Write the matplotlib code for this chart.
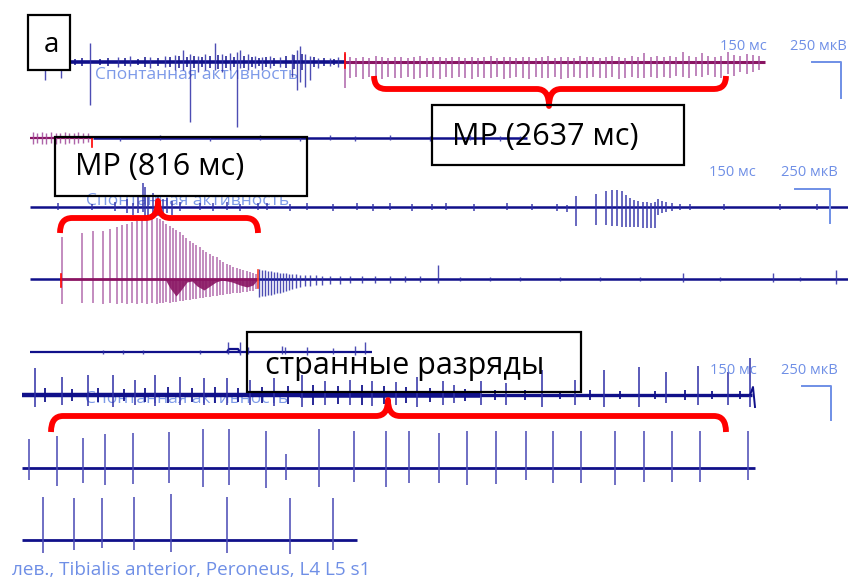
import matplotlib
matplotlib.use('Agg')
import matplotlib.pyplot as plt
from matplotlib.path import Path
from matplotlib.patches import PathPatch, Rectangle

# ---------------- data (sweep position, amplitudes up / down) ----------------
# Row 1: spontaneous activity then MP discharge (magenta)
r1_blue_x    = [45, 61, 90, 118, 130, 150, 165, 175, 183, 190, 198, 205, 215, 222, 230, 237, 240, 248, 255, 262, 270, 280, 292, 297, 300, 305, 310, 318, 330, 338]
r1_blue_up   = [0, 0, 19, 5, 6, 5, 6, 7, 12, 8, 6, 8, 19, 8, 9, 10, 12, 8, 6, 5, 6, 5, 8, 12, 16, 8, 6, 4, 4, 5]
r1_blue_down = [18, 16, 43, 5, 4, 6, 5, 8, 8, 60, 10, 8, 8, 10, 8, 65, 6, 8, 6, 8, 6, 5, 15, 28, 20, 25, 18, 6, 4, 5]
r1_noise_x = [75, 82, 100, 108, 125, 138, 145, 158, 170, 179, 187, 194, 202, 210, 218, 226, 234, 244, 252, 259, 266, 274, 286, 294, 302, 314, 324, 334]
r1_noise_a = [3, 4, 3, 4, 4, 3, 5, 4, 5, 6, 5, 6, 5, 6, 7, 6, 5, 6, 5, 4, 5, 4, 6, 7, 8, 5, 4, 3]
r1_mag_x = [345, 350, 356, 363, 369, 376, 382, 388, 395, 401, 408, 414, 420, 427, 433, 440, 446, 452, 459, 465,
            472, 478, 484, 491, 497, 504, 510, 516, 523, 529, 536, 542, 548, 555, 561, 568, 574, 580, 587, 593,
            600, 606, 612, 619, 625, 632, 638, 644, 651, 657, 664, 670, 676, 683, 689, 696, 702, 708, 715, 721,
            728, 734, 740, 747, 753, 759]
r1_mag_up = [8, 5, 4, 5, 4, 6, 5, 4, 5, 5, 4, 5, 6, 4, 5, 5, 4, 5, 5, 4,
             5, 4, 5, 6, 4, 5, 5, 4, 5, 5, 4, 5, 6, 4, 5, 5, 4, 6, 5, 5,
             4, 5, 6, 5, 4, 6, 5, 9, 5, 6, 5, 6, 5, 10, 6, 5, 9, 6, 5, 6,
             10, 7, 6, 8, 7, 6]
r1_mag_down = [26, 16, 15, 17, 15, 16, 17, 15, 16, 16, 15, 17, 16, 15, 16, 17, 15, 16, 15, 16,
               17, 15, 16, 16, 15, 17, 16, 15, 16, 17, 15, 16, 16, 15, 17, 16, 15, 16, 16, 15,
               16, 16, 15, 17, 16, 15, 16, 16, 15, 16, 15, 16, 14, 15, 16, 14, 15, 13, 15, 16,
               12, 14, 10, 12, 10, 8]

# Row 2
r2_mag_x = [33, 37, 42, 46, 51, 56, 60, 65, 69, 74, 78, 83, 88]
r2_mag_up = [6, 5, 6, 5, 6, 5, 5, 6, 5, 5, 6, 5, 5]
r2_mag_down = [6, 5, 6, 6, 5, 6, 5, 6, 5, 6, 5, 5, 4]
r2_blue_x = [120, 160, 210, 260, 300, 330, 355, 390, 430, 470, 500, 520]
r2_blue_up = [2, 3, 2, 3, 2, 3, 2, 3, 2, 3, 2, 2]
r2_blue_down = [3, 2, 3, 2, 3, 2, 3, 2, 3, 2, 3, 2]

# Row 3: spontaneous activity with a burst
r3_x = [58, 92, 115, 127, 133, 138, 143, 145, 148, 153, 158, 163, 167, 172, 180, 200, 213, 227, 240, 258, 267, 290,
        307, 333, 357, 373, 390, 412, 432, 446, 474, 507, 532, 557, 567,
        576, 596, 606, 612, 617, 622, 626, 630, 634, 638, 643, 647, 651, 655, 658, 662, 666, 672, 680, 690, 724, 780, 817]
r3_up = [4, 3, 5, 8, 4, 10, 24, 20, 12, 14, 10, 8, 9, 6, 5, 4, 4, 5, 3, 4, 4, 3,
         4, 3, 4, 3, 4, 3, 3, 4, 3, 4, 3, 3, 2,
         11, 13, 16, 17, 17, 16, 12, 9, 7, 6, 5, 5, 4, 5, 8, 6, 5, 4, 3, 3, 3, 3, 3]
r3_down = [3, 3, 4, 6, 8, 6, 5, 9, 10, 8, 9, 7, 6, 8, 4, 3, 4, 3, 4, 3, 3, 4,
           3, 4, 3, 4, 3, 4, 3, 3, 4, 3, 3, 4, 5,
           19, 18, 18, 19, 19, 20, 20, 20, 20, 20, 21, 21, 21, 21, 8, 6, 5, 4, 3, 3, 3, 3, 3]

# Row 4: MP (816 ms) – waxing/waning discharge
r4_mag_x = [62, 82, 93, 103, 110, 117, 122, 127, 132, 137, 142, 147, 152, 157, 160, 163, 166, 170, 173, 176, 180,
            183, 186, 190, 193, 196, 200, 203, 206, 210, 213, 217, 220, 223, 227, 230, 233, 237, 240, 243, 247,
            250, 253, 256]
r4_mag_up = [42, 46, 48, 48, 50, 52, 54, 55, 57, 58, 59, 61, 62, 61, 60, 58, 55, 53, 51, 49, 47,
             44, 41, 38, 36, 34, 32, 29, 27, 25, 23, 22, 19, 17, 15, 14, 12, 11, 10, 9, 8,
             7, 6, 5]
r4_mag_down = [25, 24, 24, 25, 24, 25, 24, 25, 24, 25, 24, 25, 24, 25, 24, 24, 23, 24, 23, 23, 22,
               22, 21, 21, 20, 20, 19, 19, 18, 18, 17, 17, 16, 16, 15, 15, 14, 14, 14, 13, 13,
               12, 12, 10]
r4_dip_x = [165, 170, 176, 181, 187, 192, 197, 204, 210, 216, 222, 232, 240, 247, 253, 258]
r4_dip_d = [0, 9, 17, 11, 3, 2, 7, 11, 7, 3, 1, 3, 6, 8, 6, 0]
r4_blue_x = [259, 262, 265, 268, 271, 274, 277, 280, 283, 286, 289, 292, 296, 300, 305, 310, 316, 322, 330,
             340, 350, 362, 375, 390, 405, 420, 438, 460, 490, 520, 560, 600, 640, 683, 720, 773, 800, 836]
r4_blue_up = [10, 9, 9, 8, 8, 7, 7, 6, 6, 6, 5, 5, 5, 4, 4, 4, 4, 3, 3,
              3, 3, 3, 3, 3, 3, 3, 14, 2, 2, 2, 2, 2, 2, 6, 2, 6, 2, 9]
r4_blue_down = [18, 17, 17, 16, 16, 15, 14, 14, 13, 12, 11, 10, 9, 8, 7, 7, 6, 6, 5,
                5, 4, 4, 4, 4, 3, 3, 4, 2, 2, 2, 2, 2, 2, 3, 2, 3, 2, 5]

# Row 5
r5_x = [103, 123, 143, 200, 228, 240, 248, 282, 285, 307, 333, 355, 365]
r5_up = [2, 2, 2, 2, 10, 10, 5, 6, 5, 5, 4, 6, 10]
r5_down = [2, 2, 2, 2, 2, 3, 2, 2, 2, 3, 2, 3, 2]

# Row 6: strange discharges
r6_x = [35, 62, 88, 113, 135, 155, 180, 204, 227, 250, 274, 302, 325, 350, 372, 396, 417, 443, 454, 481, 506,
        542, 575, 604, 639, 666, 698, 728, 750]
r6_up = [27, 18, 20, 20, 15, 20, 18, 17, 17, 15, 17, 20, 14, 15, 14, 13, 18, 14, 10, 14, 12,
         25, 15, 25, 28, 23, 29, 23, 37]
r6_down = [12, 10, 11, 12, 10, 11, 10, 10, 10, 10, 11, 12, 10, 10, 11, 10, 12, 10, 8, 10, 10,
           12, 10, 12, 12, 8, 10, 10, 12]
r6_noise_x = [45, 72, 98, 124, 145, 168, 192, 215, 238, 262, 288, 313, 338, 362, 384, 406, 430, 465, 495, 525, 560, 590, 620, 655, 685, 712, 740]
r6_noise_a = [7, 6, 7, 6, 7, 8, 7, 8, 7, 8, 9, 10, 9, 10, 9, 8, 7, 6, 5, 5, 4, 5, 4, 4, 5, 4, 4]

# Row 7 and row 8: regular discharges
r7_x = [29, 57, 83, 105, 133, 169, 203, 229, 266, 286, 319, 354, 386, 409, 439, 467, 496, 526, 553, 581, 615, 644, 672, 700, 748]
r7_up = [29, 32, 30, 34, 35, 36, 39, 39, 37, 14, 39, 37, 37, 37, 35, 37, 37, 37, 37, 37, 37, 37, 37, 37, 37]
r7_down = [12, 18, 15, 17, 16, 15, 19, 17, 20, 12, 19, 14, 19, 15, 15, 17, 16, 12, 15, 15, 17, 14, 14, 14, 12]
r8_x = [43, 74, 102, 134, 171, 227, 290, 333]
r8_up = [43, 42, 42, 43, 46, 43, 42, 42]
r8_down = [13, 10, 8, 10, 12, 13, 14, 10]

scale_labels = ["150 мс", "250 мкВ"]
sp_label = "Спонтанная активность"
box_labels = ["МР (2637 мс)", "МР (816 мс)", "странные разряды"]
bottom_label = "лев., Tibialis anterior, Peroneus, L4 L5 s1"

# ---------------- styling ----------------
NAVY = '#10108a'
SPK = '#2e2ea6'
MAG = '#8a1462'
MAGL = '#a0489a'
RED = '#ff0000'
LBLUE = '#6f8fe6'

W, H = 848, 580
fig = plt.figure(figsize=(W / 100, H / 100), dpi=100)
ax = fig.add_axes([0, 0, 1, 1])
ax.set_xlim(0, W)
ax.set_ylim(H, 0)
ax.axis('off')


def base(x0, x1, y, color=NAVY, lw=1.8, z=3):
    ax.plot([x0, x1], [y, y], color=color, lw=lw, solid_capstyle='butt', zorder=z)


def spikes(xs, ups, downs, y, color=SPK, lw=1.0, alpha=0.85, z=4):
    ax.vlines(xs, [y - u for u in ups], [y + d for d in downs], colors=color, lw=lw, alpha=alpha, zorder=z)


# spontaneous activity labels (behind traces)
for (tx, ty) in [(95, 75), (86, 201), (85, 399)]:
    ax.text(tx, ty, sp_label, color=LBLUE, fontsize=12.5, family='Open Sans', va='center', ha='left', zorder=1, alpha=0.9)

# Row 1
y1 = 62
base(40, 345, y1, lw=2.6)
spikes(r1_noise_x, r1_noise_a, r1_noise_a, y1, color=NAVY, lw=1.2, alpha=0.9)
spikes(r1_blue_x, r1_blue_up, r1_blue_down, y1)
base(345, 765, y1, color=MAG, lw=2.2)
spikes(r1_mag_x, r1_mag_up, r1_mag_down, y1, color=MAGL, lw=1.1)
ax.plot([345, 345], [53, 68], color=RED, lw=1.2, zorder=5)

# Row 2
y2 = 138
base(30, 93, y2, color=MAG, lw=1.6)
spikes(r2_mag_x, r2_mag_up, r2_mag_down, y2, color=MAGL, lw=1.0)
base(93, 527, y2, lw=1.8)
spikes(r2_blue_x, r2_blue_up, r2_blue_down, y2, lw=1.0)
ax.plot([92, 92], [138, 147], color=RED, lw=1.2, zorder=5)

# Row 3
y3 = 207
base(30, 848, y3, lw=1.8)
spikes(r3_x, r3_up, r3_down, y3, lw=1.2)

# Row 4
y4 = 279
base(30, 61, y4, lw=1.8)
spikes(r4_mag_x, r4_mag_up, r4_mag_down, y4, color=MAGL, lw=1.1, alpha=0.8)
ax.fill_between(r4_dip_x, [y4] * len(r4_dip_x), [y4 + d for d in r4_dip_d], color=MAG, lw=0, zorder=5, alpha=0.9)
base(61, 258, y4, color=MAG, lw=2.0, z=5)
base(258, 848, y4, lw=1.8)
spikes(r4_blue_x, r4_blue_up, r4_blue_down, y4, lw=1.0)
ax.plot([61, 61], [274, 287], color=RED, lw=1.2, zorder=6)
ax.plot([258, 258], [270, 288], color='#ff4020', lw=1.2, zorder=6)

# Row 5
y5 = 352
base(30, 372, y5, lw=1.6)
ax.plot([227, 229, 238, 240], [y5, y5 - 3, y5 - 3, y5], color=NAVY, lw=1.6, zorder=3)
spikes(r5_x, r5_up, r5_down, y5, lw=1.0)

# Row 6
y6 = 395
base(22, 300, y6, lw=3.2)
base(300, 480, y6, lw=4.0)
base(480, 752, y6, lw=2.4)
spikes(r6_noise_x, r6_noise_a, r6_noise_a, y6, color=NAVY, lw=1.4, alpha=0.9)
spikes(r6_x, r6_up, r6_down, y6, lw=1.3)
ax.plot([750, 753, 755], [y6, y6 - 8, y6 + 12], color=NAVY, lw=1.4, zorder=4)

# Row 7
y7 = 468
base(22, 755, y7, lw=2.0)
spikes(r7_x, r7_up, r7_down, y7, color='#4848b4', lw=1.3)

# Row 8
y8 = 540
base(22, 357, y8, lw=2.0)
spikes(r8_x, r8_up, r8_down, y8, color='#4848b4', lw=1.3)


# ---------------- braces ----------------
def brace(x0, x1, xc, yh, yend, ytip):
    r = 12
    verts = [(x0, yend), (x0, yh), (x0 + r, yh), (xc - r, yh), (xc, yh), (xc, ytip),
             (xc, yh), (xc + r, yh), (x1 - r, yh), (x1, yh), (x1, yend)]
    codes = [Path.MOVETO, Path.CURVE3, Path.CURVE3, Path.LINETO, Path.CURVE3, Path.CURVE3,
             Path.CURVE3, Path.CURVE3, Path.LINETO, Path.CURVE3, Path.CURVE3]
    ax.add_patch(PathPatch(Path(verts, codes), fill=False, edgecolor=RED, lw=4.2,
                           capstyle='butt', joinstyle='round', zorder=8))


brace(374, 726, 549, 89, 76, 106)
brace(60, 258, 158, 218, 233, 201)
brace(51, 726, 388, 416, 432, 400)


# ---------------- boxes and labels ----------------
def box(x0, y0, x1, y1, lw=1.6, fill=False):
    ax.add_patch(Rectangle((x0, y0), x1 - x0, y1 - y0, fill=fill, facecolor='white',
                           edgecolor='black', lw=lw, zorder=9))


box(28, 15, 70, 70, fill=True)
ax.text(51, 45, "а", fontsize=20, family='Open Sans', ha='center', va='center', zorder=10)
box(432, 105, 684, 165)
ax.text(452, 137, box_labels[0], fontsize=22, family='Open Sans', ha='left', va='center', zorder=10)
box(55, 137, 307, 196)
ax.text(75, 167, box_labels[1], fontsize=22, family='Open Sans', ha='left', va='center', zorder=10)
box(247, 332, 581, 392)
ax.text(265, 366, box_labels[2], fontsize=22, family='Open Sans', ha='left', va='center', zorder=10)

# scale labels and bars
for (xa, xb, yt, hx0, hx1, hy, vy) in [(720, 790, 46, 812, 841, 62, 98),
                                       (709, 781, 172, 795, 830, 189, 223),
                                       (710, 781, 370, 802, 831, 386, 420)]:
    ax.text(xa, yt, scale_labels[0], color=LBLUE, fontsize=10.5, family='Open Sans', ha='left', va='center', zorder=10)
    ax.text(xb, yt, scale_labels[1], color=LBLUE, fontsize=10.5, family='Open Sans', ha='left', va='center', zorder=10)
    ax.plot([hx0, hx1, hx1], [hy, hy, vy], color=LBLUE, lw=1.4, zorder=10)

ax.text(12, 570, bottom_label, color=LBLUE, fontsize=13.6, family='Open Sans', ha='left', va='center', zorder=10)

fig.savefig('out.png', dpi=100)
